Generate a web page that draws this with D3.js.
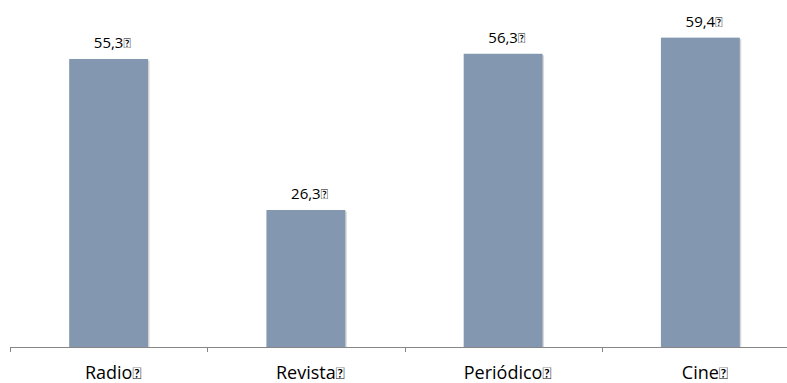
<!DOCTYPE html>
<html>
<head>
<meta charset="utf-8">
<script src="https://cdn.jsdelivr.net/npm/d3@7"></script>
<style>
  html, body { margin: 0; padding: 0; background: #fff; }
  svg { display: block; font-family: "Open Sans", Lato, "Liberation Sans", sans-serif; }
</style>
</head>
<body>
<svg id="chart" width="787" height="383"></svg>
<script>
// Audience share by medium (%)
const categories = ["Radio", "Revista", "Periódico", "Cine"];
const values = [55.3, 26.3, 56.3, 59.4];
const suffix = "\uE000";

const svg = d3.select("#chart");
const baseY = 347;

const x = d3.scaleBand().domain(categories).range([10, 799]).padding(0);
const y = d3.scaleLinear().domain([0, 60]).range([baseY, 34.5]);
const barW = x.bandwidth() * 0.4;
const cx = c => x(c) + x.bandwidth() / 2;

const fmt = v => d3.format(".1f")(v).replace(".", ",");

// bar shadows
svg.append("g").selectAll("rect").data(values).join("rect")
  .attr("x", (d, i) => cx(categories[i]) - barW / 2 + 1.5)
  .attr("y", d => y(d) + 1.5)
  .attr("width", barW)
  .attr("height", d => baseY - y(d) - 1.5)
  .attr("fill", "#d9d9d9");

// bars
svg.append("g").selectAll("rect").data(values).join("rect")
  .attr("x", (d, i) => cx(categories[i]) - barW / 2)
  .attr("y", d => y(d))
  .attr("width", barW)
  .attr("height", d => baseY - y(d))
  .attr("fill", "#8497b0");

// Label centred on its plain text, with the marker glyph trailing after it
function centredLabel(sel, text, xc, yb, size) {
  const t = sel.append("text")
    .attr("y", yb)
    .attr("font-size", size)
    .attr("fill", "#000");
  const main = t.append("tspan").text(text);
  const w = main.node().getComputedTextLength();
  t.attr("x", xc - w / 2);
  t.append("tspan")
    .attr("font-family", "Lato, sans-serif")
    .attr("font-size", size * 0.9)
    .text(suffix);
}

// value labels
const vl = svg.append("g");
values.forEach((v, i) => centredLabel(vl, fmt(v), cx(categories[i]), y(v) - 11, 15));

// category axis line and boundary ticks
const axis = svg.append("g").attr("transform", `translate(0,${baseY})`);
axis.append("line")
  .attr("x1", 10).attr("x2", 787).attr("y1", 0.5).attr("y2", 0.5)
  .attr("stroke", "#868686");
axis.selectAll("line.tk").data(categories.map(c => x(c))).join("line")
  .attr("class", "tk")
  .attr("x1", d => Math.round(d) + 0.5).attr("x2", d => Math.round(d) + 0.5)
  .attr("y1", 0).attr("y2", 5)
  .attr("stroke", "#868686");

// category labels
const cl = svg.append("g");
categories.forEach(c => centredLabel(cl, c, cx(c), 379, 18));
</script>
</body>
</html>
